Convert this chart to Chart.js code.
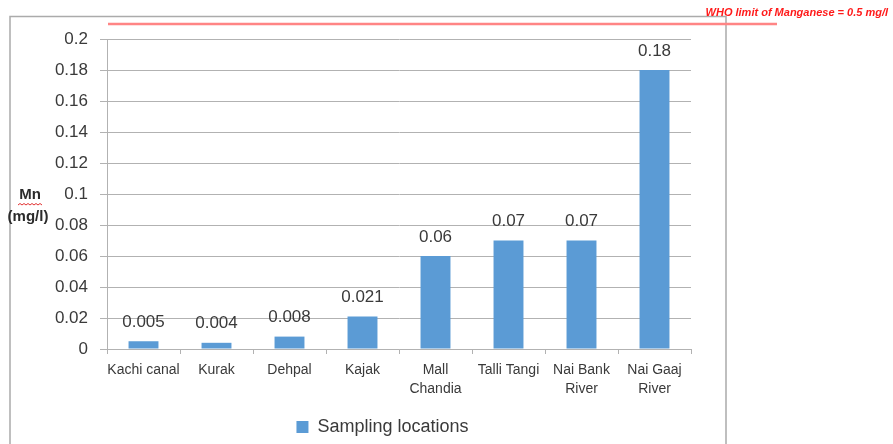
<!DOCTYPE html>
<html>
<head>
<meta charset="utf-8">
<style>
  html, body { margin: 0; padding: 0; background: #ffffff; }
  #wrap { width: 893px; height: 444px; position: relative; }
</style>
<script src="https://cdn.jsdelivr.net/npm/chart.js@4.4.1/dist/chart.umd.min.js"></script>
</head>
<body>
<div id="wrap"><canvas id="chart"></canvas></div>
<script>
// Manganese concentration at each sampling site (mg/l)
const locations = ['Kachi canal', 'Kurak', 'Dehpal', 'Kajak', ['Mall', 'Chandia'], 'Talli Tangi', ['Nai Bank', 'River'], ['Nai Gaaj', 'River']];
const manganese = [0.005, 0.004, 0.008, 0.021, 0.06, 0.07, 0.07, 0.18];
const yTickLabels = ['0', '0.02', '0.04', '0.06', '0.08', '0.1', '0.12', '0.14', '0.16', '0.18', '0.2'];
const seriesName = 'Sampling locations';
const axisTitle = ['Mn', '(mg/l)'];
const limitNote = 'WHO limit of Manganese = 0.5 mg/l';

const FONT = "'Liberation Sans', Arial, sans-serif";
const TEXT = '#3a3a3a';
const GRID = '#b2b2b2';

// Frame, limit note, axis title and bar value labels
const annotations = {
  id: 'annotations',
  afterLayout(chart) {
    // centre the legend under the framed region rather than the whole canvas
    const lg = chart.legend;
    if (lg) {
      lg.left += 37; lg.right += 37;
      lg.top += 2; lg.bottom += 2;
    }
  },
  beforeDraw(chart) {
    const ctx = chart.ctx;
    ctx.save();
    ctx.strokeStyle = '#ababab';
    ctx.lineWidth = 1.5;
    ctx.beginPath();
    ctx.moveTo(10, 460);
    ctx.lineTo(10, 16.5);
    ctx.lineTo(726, 16.5);
    ctx.lineTo(726, 460);
    ctx.stroke();
    ctx.restore();
  },
  afterDatasetsDraw(chart) {
    const ctx = chart.ctx;
    const meta = chart.getDatasetMeta(0);
    ctx.save();
    ctx.font = '17px ' + FONT;
    ctx.fillStyle = TEXT;
    ctx.textAlign = 'center';
    ctx.textBaseline = 'middle';
    meta.data.forEach((bar, i) => {
      ctx.fillText(String(manganese[i]), bar.x, bar.y - 19);
    });
    ctx.restore();
  },
  afterDraw(chart) {
    const ctx = chart.ctx;
    const area = chart.chartArea;
    ctx.save();
    // limit line
    ctx.strokeStyle = '#ff8585';
    ctx.lineWidth = 2.5;
    ctx.beginPath();
    ctx.moveTo(area.left + 1, 24);
    ctx.lineTo(777, 24);
    ctx.stroke();
    // limit note
    ctx.font = 'italic bold 11px ' + FONT;
    ctx.fillStyle = '#ff1a1a';
    ctx.textAlign = 'right';
    ctx.textBaseline = 'middle';
    ctx.fillText(limitNote, 888, 13);
    // y axis title
    ctx.font = 'bold 15px ' + FONT;
    ctx.fillStyle = '#2b2b2b';
    ctx.textAlign = 'center';
    ctx.fillText(axisTitle[0], 30, 195);
    ctx.fillText(axisTitle[1], 28, 217);
    // wavy underline beneath the unit symbol
    ctx.strokeStyle = '#e03030';
    ctx.lineWidth = 1;
    ctx.beginPath();
    for (let x = 18; x <= 42; x += 2) {
      const y = 203.5 + ((x / 2) % 2 === 0 ? 0 : 1.5);
      if (x === 18) ctx.moveTo(x, y); else ctx.lineTo(x, y);
    }
    ctx.stroke();
    ctx.restore();
  }
};

new Chart(document.getElementById('chart'), {
  type: 'bar',
  data: {
    labels: locations,
    datasets: [{
      label: seriesName,
      data: manganese,
      backgroundColor: '#5b9bd5',
      borderWidth: 0,
      barPercentage: 0.41,
      categoryPercentage: 1
    }]
  },
  options: {
    responsive: true,
    maintainAspectRatio: false,
    devicePixelRatio: 1,
    animation: false,
    layout: { padding: { left: 0, right: 202, top: 39, bottom: 0 } },
    scales: {
      x: {
        offset: true,
        grid: { display: true, drawOnChartArea: false, drawTicks: true, tickLength: 5, color: GRID, offset: true },
        border: { display: true, color: GRID },
        ticks: {
          font: { family: FONT, size: 14, lineHeight: 1.35 },
          color: TEXT,
          padding: 7,
          maxRotation: 0,
          autoSkip: false
        },
        afterFit(scale) { scale.height = 57; }
      },
      y: {
        min: 0,
        max: 0.2,
        ticks: {
          stepSize: 0.02,
          font: { family: FONT, size: 17 },
          color: TEXT,
          padding: 12,
          callback: (value, index) => yTickLabels[index]
        },
        grid: { color: GRID, tickLength: 7, drawTicks: true },
        border: { display: true, color: GRID },
        afterFit(scale) { scale.width = 107; }
      }
    },
    plugins: {
      legend: {
        position: 'bottom',
        labels: {
          boxWidth: 12,
          boxHeight: 12,
          padding: 10,
          color: TEXT,
          font: { family: FONT, size: 18 }
        }
      },
      tooltip: { enabled: false }
    }
  },
  plugins: [annotations]
});
</script>
</body>
</html>
